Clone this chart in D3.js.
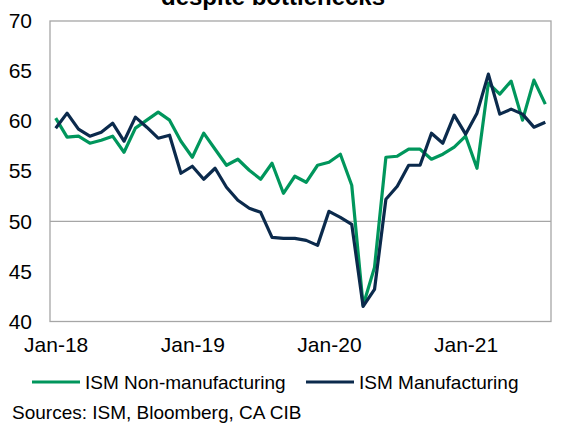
<!DOCTYPE html>
<head>
  <meta http-equiv="Content-Type" content="text/html; charset=utf-8">
  <style>
    body { margin: 0; background: #fff; }
    text { font-family: "Liberation Sans", Arial, sans-serif; fill: #000; }
  </style>
</head>
<body></body>
<script src="https://cdnjs.cloudflare.com/ajax/libs/d3/7.8.5/d3.min.js"></script>
<script>

var width = 576,
    height = 423;

// monthly, Jan-18 .. Aug-21
var months = [];
["18", "19", "20", "21"].forEach(function(y) {
  ["Jan","Feb","Mar","Apr","May","Jun","Jul","Aug","Sep","Oct","Nov","Dec"].forEach(function(m) {
    months.push(m + "-" + y);
  });
});
months = months.slice(0, 44);

var nonManufacturing = [
  60.3, 58.4, 58.5, 57.8, 58.1, 58.5, 56.9, 59.3, 60.1, 60.9, 60.1, 58.0,
  56.4, 58.8, 57.2, 55.6, 56.2, 55.1, 54.2, 55.8, 52.8, 54.5, 53.9, 55.6,
  55.9, 56.7, 53.6, 41.6, 45.4, 56.4, 56.5, 57.2, 57.2, 56.2, 56.7, 57.4,
  58.5, 55.3, 63.8, 62.7, 64.0, 60.1, 64.1, 61.7
];
var manufacturing = [
  59.3, 60.8, 59.2, 58.5, 58.9, 59.8, 58.0, 60.4, 59.4, 58.3, 58.6, 54.8,
  55.5, 54.2, 55.3, 53.4, 52.1, 51.3, 50.9, 48.4, 48.3, 48.3, 48.1, 47.6,
  51.0, 50.4, 49.7, 41.5, 43.2, 52.2, 53.5, 55.6, 55.6, 58.8, 57.8, 60.6,
  58.7, 60.8, 64.7, 60.7, 61.2, 60.7, 59.4, 59.9
];
var xTickLabels = ["Jan-18", "Jan-19", "Jan-20", "Jan-21"];
var yTicks = [40, 45, 50, 55, 60, 65, 70];

var series = [
  {name: "ISM Non-manufacturing", values: nonManufacturing, color: "#00965c"},
  {name: "ISM Manufacturing", values: manufacturing, color: "#0b2a4c"}
];

var plot = {left: 50, right: 551, top: 21, bottom: 321.5};

var svg = d3.select("body").append("svg")
    .attr("width", width)
    .attr("height", height);

var xs = d3.scalePoint()
    .domain(months)
    .range([plot.left, plot.right])
    .padding(0.5);
var ys = d3.scaleLinear()
    .domain([40, 70])
    .range([plot.bottom, plot.top]);

// title (cut off at top)
svg.append("text")
    .attr("x", 273)
    .attr("y", 5)
    .attr("text-anchor", "middle")
    .style("font-size", "24px")
    .style("font-weight", "bold")
    .text("despite bottlenecks");

// frame
svg.append("rect")
    .attr("x", plot.left)
    .attr("y", plot.top)
    .attr("width", plot.right - plot.left)
    .attr("height", plot.bottom - plot.top)
    .attr("fill", "none")
    .attr("stroke", "#a6a6a6")
    .attr("stroke-width", 1.3);

// 50 line
svg.append("line")
    .attr("x1", plot.left).attr("x2", plot.right)
    .attr("y1", ys(50)).attr("y2", ys(50))
    .attr("stroke", "#a6a6a6")
    .attr("stroke-width", 1.3);

// y axis
var yAxis = svg.append("g")
    .attr("transform", "translate(" + (plot.left - 18) + ",0)")
    .call(d3.axisLeft(ys).tickValues(yTicks).tickSize(0).tickPadding(0));
yAxis.select(".domain").remove();
yAxis.selectAll("text")
    .style("font-size", "21px")
    .style("font-family", "Liberation Sans, Arial, sans-serif")
    .attr("fill", "#000");

// x axis
var xIdx = xTickLabels.map(function(l) { return months.indexOf(l); });
var xAxis = svg.append("g")
    .attr("transform", "translate(0," + plot.bottom + ")")
    .call(d3.axisBottom(xs).tickValues(xTickLabels).tickSize(0).tickPadding(16));
xAxis.select(".domain").remove();
xAxis.selectAll("text")
    .style("font-size", "21px")
    .style("font-family", "Liberation Sans, Arial, sans-serif")
    .attr("fill", "#000");

// lines
var line = d3.line()
    .x(function(d, i) { return xs(months[i]); })
    .y(function(d) { return ys(d); });

svg.selectAll(".series")
    .data(series)
    .enter()
    .append("path")
    .attr("class", "series")
    .attr("d", function(d) { return line(d.values); })
    .attr("fill", "none")
    .attr("stroke", function(d) { return d.color; })
    .attr("stroke-width", 3.2)
    .attr("stroke-linejoin", "round");

// legend
var legendX = [32, 306];
var legend = svg.selectAll(".legend")
    .data(series)
    .enter()
    .append("g")
    .attr("class", "legend")
    .attr("transform", function(d, i) { return "translate(" + legendX[i] + ",382)"; });
legend.append("line")
    .attr("x1", 0).attr("x2", 48)
    .attr("stroke", function(d) { return d.color; })
    .attr("stroke-width", 3.2);
legend.append("text")
    .attr("x", 53)
    .attr("y", 7)
    .style("font-size", "19px")
    .text(function(d) { return d.name; });

// source
svg.append("text")
    .attr("x", 12)
    .attr("y", 419)
    .style("font-size", "19px")
    .text("Sources: ISM, Bloomberg, CA CIB");

</script>
</html>
